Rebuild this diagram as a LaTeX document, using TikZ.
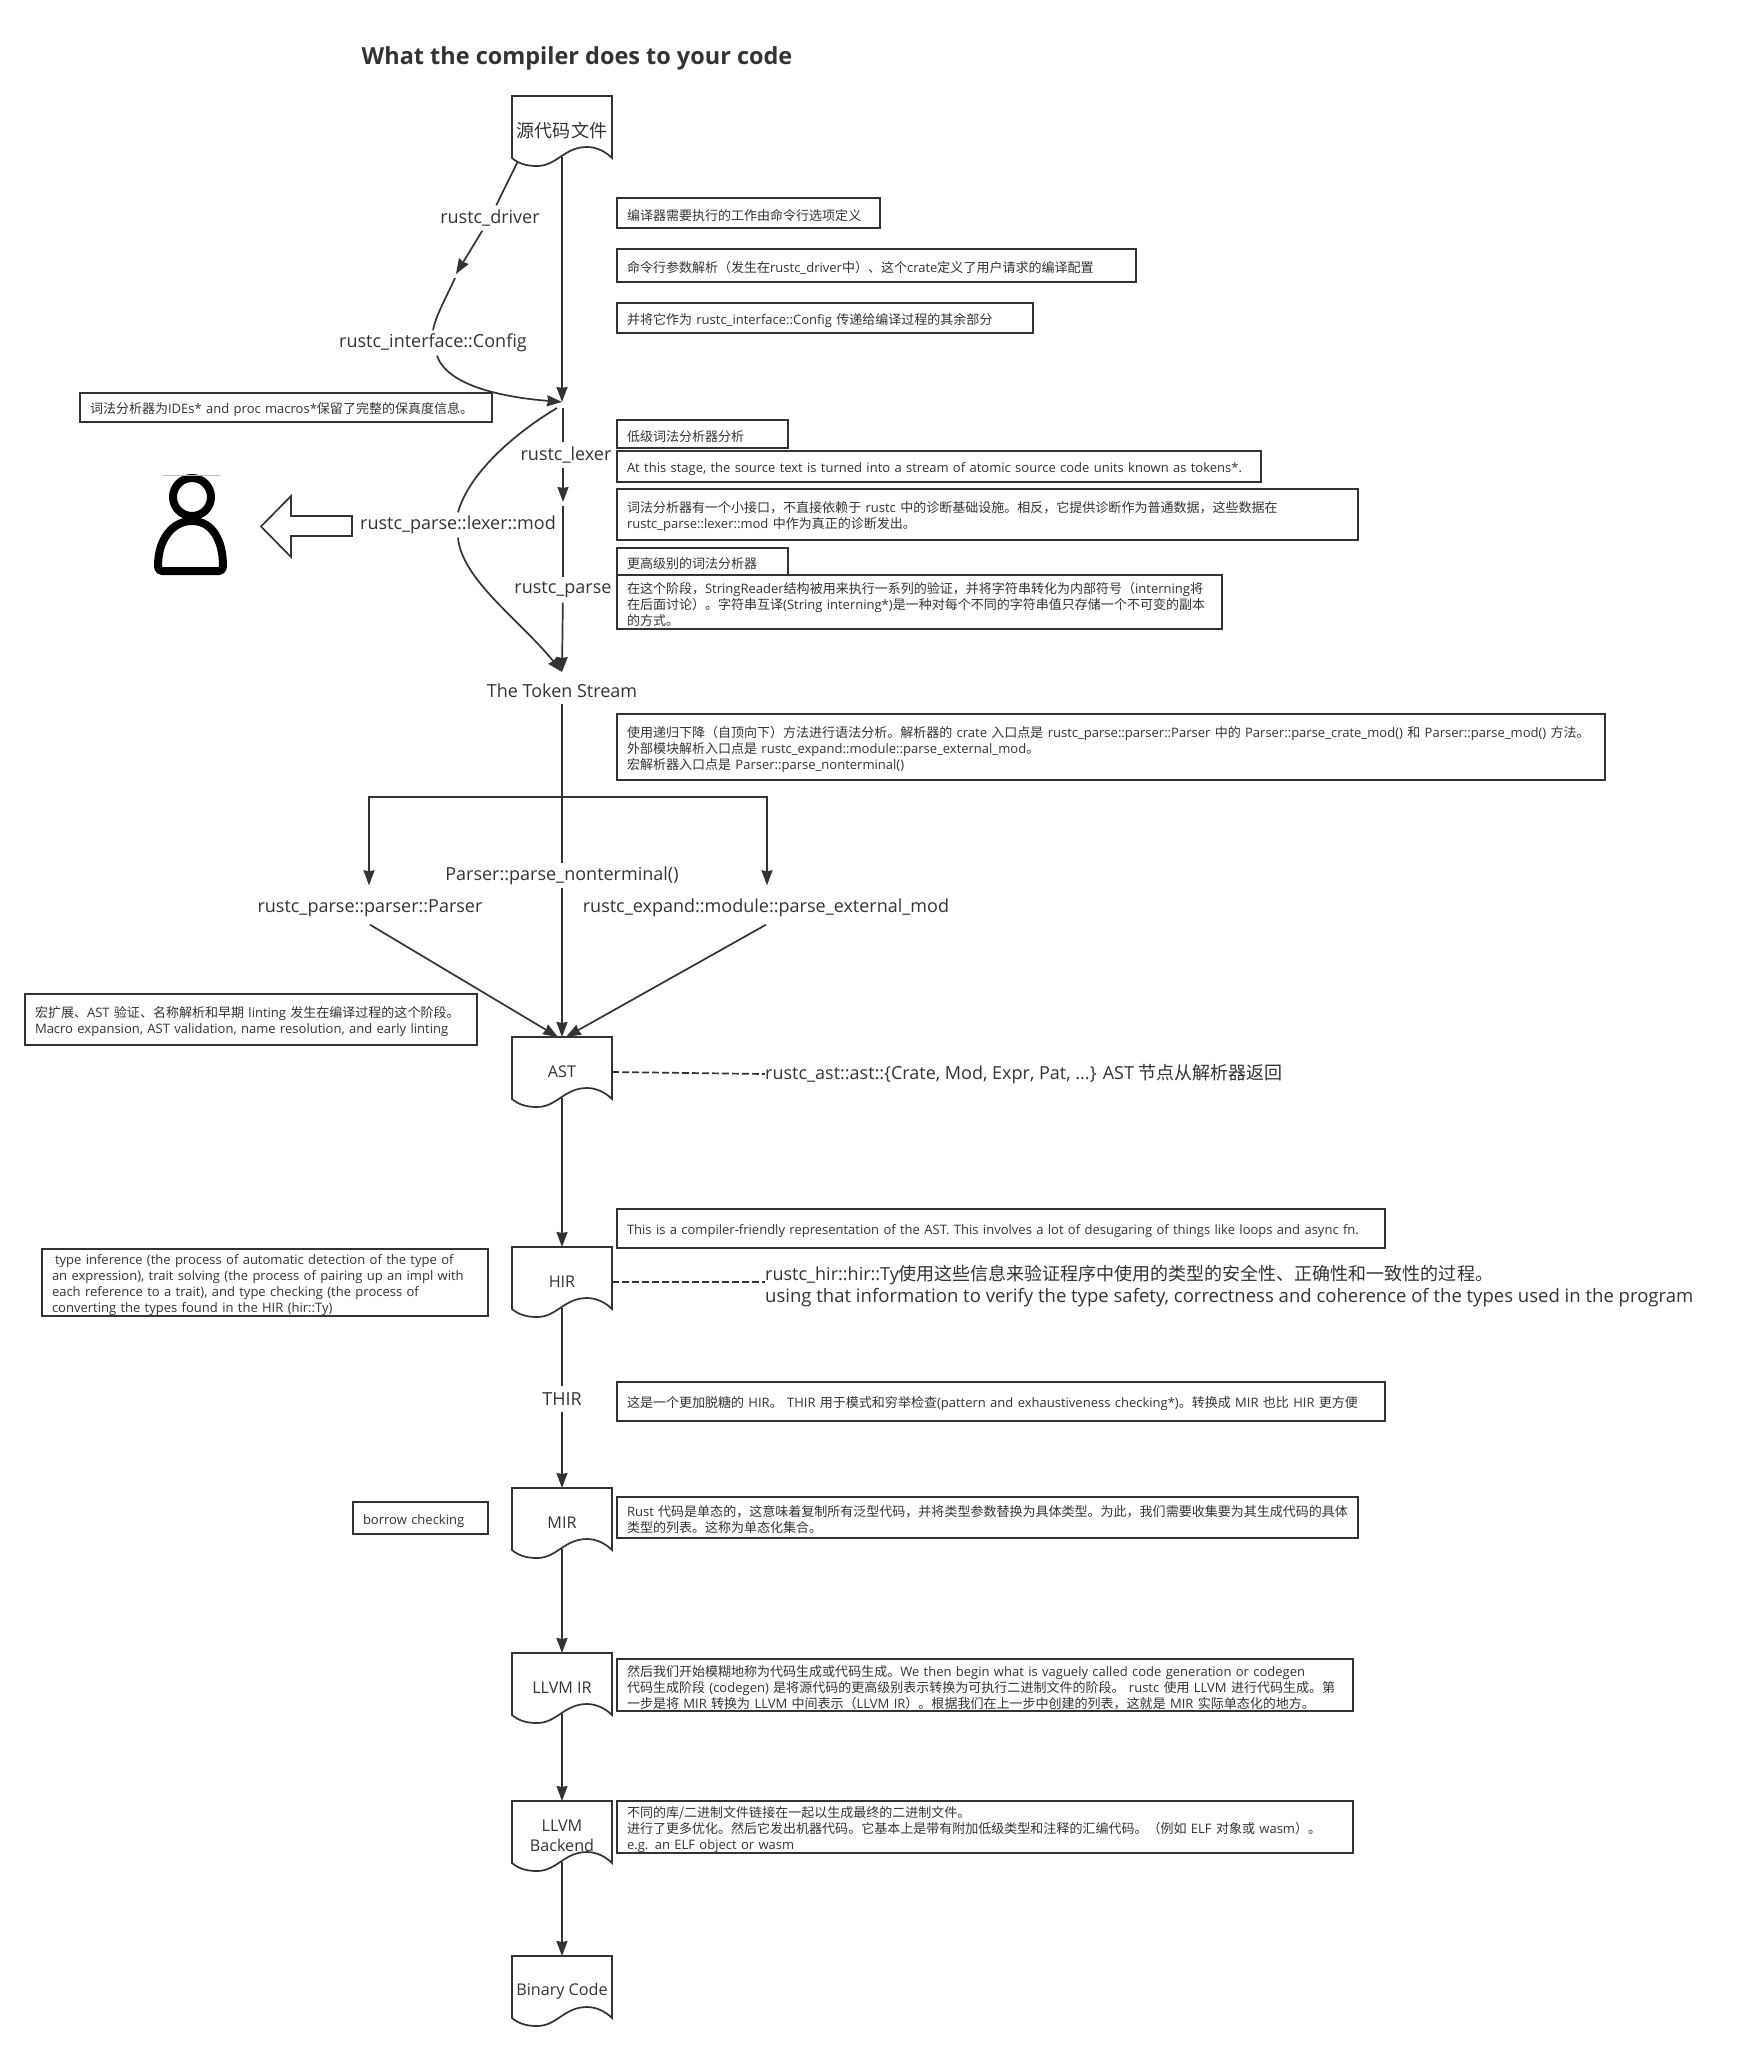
\documentclass[tikz,border=0pt]{standalone}
\usepackage{fontspec}
\setmainfont{Open Sans}[Scale=0.95]
\newfontfamily\cjk{Noto Sans CJK SC}[Scale=0.95]
\newcommand{\zh}[1]{{\cjk #1}}
\usetikzlibrary{arrows.meta}
\definecolor{ink}{HTML}{333333}
\tikzset{
  x=1pt,y=-1pt,
  edge/.style={draw=ink,line width=1.7pt},
  flow/.style={edge,-{Stealth[length=15pt,width=11pt,inset=1pt]}},
  dashlink/.style={edge,dash pattern=on 7pt off 3pt},
  flowlabel/.style={text=ink,fill=white,inner sep=0pt,font=\fontsize{18.95}{21.5}\selectfont,align=left,minimum height=25pt},
  doclabel/.style={text=ink,inner sep=0pt,minimum width=100pt,minimum height=70pt,outer sep=0pt,align=center},
  notebox/.style={draw=ink,line width=1.6pt,fill=white,text=ink,inner xsep=10pt,inner ysep=0pt,align=left,outer sep=0pt,
    font=\fontsize{13.7}{16}\selectfont},
}
\newcommand{\docnode}[4]{% name, top y, font size, text
  \node[doclabel,font=\fontsize{#3}{20}\selectfont] (#1) at (562,#2+35) {#4};
  \begin{scope}[shift={(#1.north west)}]
  \draw[edge,line join=miter] (0,0) -- (100,0) -- (100,62)
     .. controls (94,56) and (85,51) .. (75,51)
     .. controls (52,51) and (45,70) .. (25,70)
     .. controls (18,70) and (8,69) .. (0,62) -- cycle;
  \end{scope}
}
\newcommand{\tbox}[6]{% name, x1,y1,x2,y2, text
  \pgfmathsetmacro\tw{#4-#2-20}
  \pgfmathsetmacro\bh{#5-#3}
  \node[notebox,text width=\tw pt,minimum height=\bh pt] (#1) at ({(#2+#4)/2},{(#3+#5)/2}) {\rule{0pt}{16pt}#6};
}
\begin{document}
\begin{tikzpicture}
\useasboundingbox (0,0) rectangle (1743,2051);
\fill[white] (0,0) rectangle (1743,2051);

% title
\node[text=ink,inner sep=0pt,font=\fontsize{24.7}{28}\selectfont\bfseries] (title) at (577,58) {What the compiler does to your code};

% junctions
\coordinate (srcl) at (517.5,162);
\coordinate (driveTip) at (456,274);
\coordinate (cfgStart) at (455,278);
\coordinate (joinA) at (562,402);
\coordinate (lexStart) at (563,408);
\coordinate (lexCurve) at (557,408);
\coordinate (modTip) at (563,502);
\coordinate (modOut) at (563,506);
\coordinate (streamTip) at (562,672);
\coordinate (bT) at (562,797);
\coordinate (bl) at (369,797);
\coordinate (br) at (767,797);

% labels
\node[flowlabel] (drv) at (490,218) {rustc\_driver};
\node[flowlabel] (cfg) at (433,343) {rustc\_interface::Config};
\node[flowlabel] (lexer) at (566,455) {rustc\_lexer};
\node[flowlabel] (lexmod) at (458,525) {rustc\_parse::lexer::mod};
\node[flowlabel] (parse) at (563,590) {rustc\_parse};
\node[flowlabel] (stream) at (562,691) {The Token Stream};
\node[flowlabel] (nonterm) at (562,875.5) {Parser::parse\_nonterminal()};
\node[flowlabel] (parser) at (370,908) {rustc\_parse::parser::Parser};
\node[flowlabel] (expand) at (766,908) {rustc\_expand::module::parse\_external\_mod};
\node[flowlabel,anchor=west] (astnote) at (765,1074) {rustc\_ast::ast::\{Crate, Mod, Expr, Pat, ...\} AST \zh{节点从解析器返回}};
\node[flowlabel,anchor=west] (hirnote) at (765,1286) {rustc\_hir::hir::Ty\zh{使用这些信息来验证程序中使用的类型的安全性、正确性和一致性的过程。}\\{\fontsize{19.5}{21.5}\selectfont using that information to verify the type safety, correctness and coherence of the types used in the program}};
\node[flowlabel] (thir) at (562,1399) {THIR};

% documents
\docnode{src}{96}{19}{\zh{源代码文件}}
\docnode{ast}{1037}{17}{AST}
\docnode{hir}{1247}{17}{HIR}
\docnode{mir}{1488}{17}{MIR}
\docnode{llvmir}{1653}{17}{LLVM IR}
\docnode{backend}{1801}{17}{LLVM\\Backend}
\docnode{binary}{1956}{17}{Binary Code}

% connectors
\draw[edge] (srcl) -- (drv);
\draw[flow] (drv) -- (driveTip);
\draw[edge] (cfgStart) .. controls (445,300) and (436,315) .. (cfg.north);
\draw[flow] ([xshift=4pt]cfg.south) .. controls (447,385) and (500,397) .. (joinA);
\draw[flow] ([yshift=9pt]src.south) -- (joinA);
\draw[edge] (lexStart) -- (lexer.north -| lexStart);
\draw[flow] (lexer.south -| lexStart) -- (modTip);
\draw[edge] (modOut) -- (parse.north -| modOut);
\draw[flow] (parse) -- (streamTip);
\draw[edge] (lexCurve) .. controls (520,430) and (470,470) .. (lexmod.north);
\draw[flow] (lexmod.south) .. controls (462,580) and (520,620) .. (streamTip);
\draw[edge] (stream) -- (nonterm);
\draw[flow] (nonterm) -- (ast.north);
\draw[flow] (bT) -- (bl) -- (parser.north -| bl) [shorten >=10pt];
\draw[flow] (bT) -- (br) -- (expand.north -| br) [shorten >=10pt];
\draw[flow] ([yshift=-4pt]parser.south) -- ([xshift=-4pt]ast.north);
\draw[flow] ([yshift=-4pt]expand.south) -- ([xshift=4pt]ast.north);
\draw[dashlink] (ast.east) -- (astnote.west);
\draw[flow] ([yshift=9pt]ast.south) -- (hir.north);
\draw[dashlink] (hir.east) -- (hir.east -| hirnote.west);
\draw[edge] ([yshift=9pt]hir.south) -- (thir);
\draw[flow] (thir) -- (mir.north);
\draw[flow] ([yshift=9pt]mir.south) -- (llvmir.north);
\draw[flow] ([yshift=9pt]llvmir.south) -- (backend.north);
\draw[flow] ([yshift=9pt]backend.south) -- (binary.north);

% note boxes
\tbox{n1}{617}{198}{880}{228}{\zh{编译器需要执行的工作由命令行选项定义}}
\tbox{n2}{617}{249}{1136}{282}{\zh{命令行参数解析（发生在}rustc\_driver\zh{中）、这个}crate\zh{定义了用户请求的编译配置}}
\tbox{n3}{617}{303}{1033}{333}{\zh{并将它作为} rustc\_interface::Config \zh{传递给编译过程的其余部分}}
\tbox{n4}{80}{393}{492}{422}{\zh{词法分析器为}IDEs* and proc macros*\zh{保留了完整的保真度信息。}}
\tbox{n5}{617}{420}{788}{448}{\zh{低级词法分析器分析}}
\tbox{n6}{617}{451}{1261}{482}{At this stage, the source text is turned into a stream of atomic source code units known as tokens*.}
\tbox{n7}{617}{489}{1358}{540}{\zh{词法分析器有一个小接口，不直接依赖于} rustc \zh{中的诊断基础设施。相反，它提供诊断作为普通数据，这些数据在}\\rustc\_parse::lexer::mod \zh{中作为真正的诊断发出。}}
\tbox{n8}{617}{548}{788}{575}{\zh{更高级别的词法分析器}}
\tbox{n9}{617}{575}{1222}{629}{\zh{在这个阶段，}StringReader\zh{结构被用来执行一系列的验证，并将字符串转化为内部符号（}interning\zh{将}\\\zh{在后面讨论）。字符串互译}(String interning*)\zh{是一种对每个不同的字符串值只存储一个不可变的副本}\\\zh{的方式。}}
\tbox{n10}{617}{714}{1605}{780}{\zh{使用递归下降（自顶向下）方法进行语法分析。解析器的} crate \zh{入口点是} rustc\_parse::parser::Parser \zh{中的} Parser::parse\_crate\_mod() \zh{和} Parser::parse\_mod() \zh{方法。}\\\zh{外部模块解析入口点是} rustc\_expand::module::parse\_external\_mod\zh{。}\\\zh{宏解析器入口点是} Parser::parse\_nonterminal()}
\tbox{n11}{25}{994}{477}{1045}{\zh{宏扩展、}AST \zh{验证、名称解析和早期} linting \zh{发生在编译过程的这个阶段。}\\Macro expansion, AST validation, name resolution, and early linting}
\tbox{n12}{617}{1209}{1385}{1248}{This is a compiler-friendly representation of the AST. This involves a lot of desugaring of things like loops and async fn.}
\tbox{n13}{42}{1249}{488}{1316}{\hspace*{3pt}type inference (the process of automatic detection of the type of\\an expression), trait solving (the process of pairing up an impl with\\each reference to a trait), and type checking (the process of\\converting the types found in the HIR (hir::Ty)}
\tbox{n14}{617}{1382}{1385}{1421}{\zh{这是一个更加脱糖的} HIR\zh{。} THIR \zh{用于模式和穷举检查}(pattern and exhaustiveness checking*)\zh{。转换成} MIR \zh{也比} HIR \zh{更方便}}
\tbox{n15}{353}{1502}{488}{1534}{borrow checking}
\tbox{n16}{617}{1497}{1358}{1538}{Rust \zh{代码是单态的，这意味着复制所有泛型代码，并将类型参数替换为具体类型。为此，我们需要收集要为其生成代码的具体}\\\zh{类型的列表。这称为单态化集合。}}
\tbox{n17}{617}{1659}{1353}{1711}{\zh{然后我们开始模糊地称为代码生成或代码生成。}We then begin what is vaguely called code generation or codegen\\\zh{代码生成阶段} (codegen) \zh{是将源代码的更高级别表示转换为可执行二进制文件的阶段。} rustc \zh{使用} LLVM \zh{进行代码生成。第}\\\zh{一步是将} MIR \zh{转换为} LLVM \zh{中间表示（}LLVM IR\zh{）。根据我们在上一步中创建的列表，这就是} MIR \zh{实际单态化的地方。}}
\tbox{n18}{617}{1801}{1353}{1853}{\zh{不同的库/二进制文件链接在一起以生成最终的二进制文件。}\\\zh{进行了更多优化。然后它发出机器代码。它基本上是带有附加低级类型和注释的汇编代码。（例如} ELF \zh{对象或} wasm\zh{）。}\\e.g. an ELF object or wasm}

% person and block arrow
\draw[black,line width=8pt] (192,497) circle (19);
\draw[black,line width=8pt,line join=round] (158,566) .. controls (158,540) and (172,521) .. (192,521) .. controls (212,521) and (223,540) .. (223,566) .. controls (223,569) and (222,571) .. (219,571) -- (162,571) .. controls (159,571) and (158,569) .. (158,566) -- cycle;
\draw[gray!50,line width=0.7pt] (162,475) -- (220,475);
\draw[edge] (352,516) -- (291,516) -- (291,496) -- (261,526.5) -- (291,557) -- (291,536) -- (352,536) -- cycle;
\end{tikzpicture}
\end{document}
